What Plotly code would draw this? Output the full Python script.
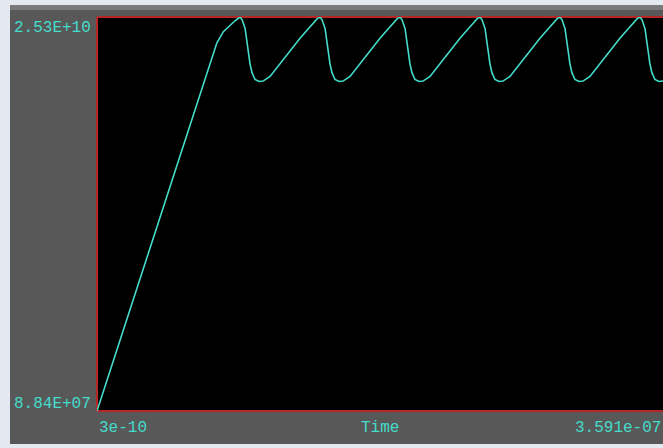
import plotly.graph_objects as go

# Time in ns, values in units of 1e10
time_ns = [
    0.3, 71.9, 76.2, 80.4, 84.6, 87.8,
    91.0, 92.3, 94.2, 96.1, 97.3, 98.6, 100.5, 103.0, 105.6, 110.0, 116.4, 122.7, 129.0, 135.4, 137.9, 139.8,
    141.7, 143.0, 144.9, 146.8, 148.0, 149.3, 151.2, 153.7, 156.3, 160.7, 167.1, 173.4, 179.7, 186.1, 188.6, 190.5,
    192.4, 193.7, 195.6, 197.5, 198.7, 200.0, 201.9, 204.4, 207.0, 211.4, 217.8, 224.1, 230.4, 236.8, 239.3, 241.2,
    243.1, 244.4, 246.3, 248.2, 249.4, 250.7, 252.6, 255.1, 257.7, 262.1, 268.5, 274.8, 281.1, 287.5, 290.0, 291.9,
    293.8, 295.1, 297.0, 298.9, 300.1, 301.4, 303.3, 305.8, 308.4, 312.8, 319.2, 325.5, 331.8, 338.2, 340.7, 342.6,
    344.5, 345.8, 347.7, 349.6, 350.8, 352.1, 354.0, 356.5, 359.1,
]
value_e10 = [
    0.00884, 2.242, 2.362, 2.436, 2.479, 2.506,
    2.530, 2.512, 2.455, 2.310, 2.230, 2.172, 2.130, 2.117, 2.120, 2.150, 2.234, 2.319, 2.394, 2.468, 2.500, 2.518,
    2.530, 2.512, 2.455, 2.310, 2.230, 2.172, 2.130, 2.117, 2.120, 2.150, 2.234, 2.319, 2.394, 2.468, 2.500, 2.518,
    2.530, 2.512, 2.455, 2.310, 2.230, 2.172, 2.130, 2.117, 2.120, 2.150, 2.234, 2.319, 2.394, 2.468, 2.500, 2.518,
    2.530, 2.512, 2.455, 2.310, 2.230, 2.172, 2.130, 2.117, 2.120, 2.150, 2.234, 2.319, 2.394, 2.468, 2.500, 2.518,
    2.530, 2.512, 2.455, 2.310, 2.230, 2.172, 2.130, 2.117, 2.120, 2.150, 2.234, 2.319, 2.394, 2.468, 2.500, 2.518,
    2.530, 2.512, 2.455, 2.310, 2.230, 2.172, 2.130, 2.117, 2.121,
]
values = [v * 1e10 for v in value_e10]

x_range = [0.3, 359.1]
y_range = [8.84e7, 2.53e10]
y_labels = ["8.84E+07", "2.53E+10"]
x_labels = ["3e-10", "Time", "3.591e-07"]

CYAN = "#44dccb"
RED = "#b42828"
GRAY = "#585858"
LIGHT = "#e4e9f1"
FONT = dict(family="Liberation Mono, DejaVu Sans Mono, monospace", size=16, color=CYAN)

W, H = 663, 448
L, R, T, B = 97, 0, 17, 37
pw, ph = W - L - R, H - T - B

def px(x):
    return (x - L) / pw

def py(y):
    return (H - B - y) / ph

fig = go.Figure()
fig.add_trace(go.Scatter(x=time_ns, y=values, mode="lines",
                         line=dict(color=CYAN, width=1.6), hoverinfo="skip",
                         cliponaxis=False))

shapes = [
    dict(type="rect", xref="paper", yref="paper", x0=px(10), x1=1.02, y0=py(444), y1=py(5),
         fillcolor=GRAY, line=dict(width=0), layer="below"),
    dict(type="rect", xref="paper", yref="paper", x0=px(10), x1=1.02, y0=py(10), y1=py(5),
         fillcolor="#7a7a7a", line=dict(width=0), layer="below"),
    dict(type="rect", xref="paper", yref="paper", x0=0, x1=1.02, y0=0, y1=1,
         fillcolor="black", line=dict(width=0), layer="below"),
    dict(type="line", xref="paper", yref="paper", x0=0, x1=1.02, y0=1, y1=1,
         line=dict(color=RED, width=2), layer="below"),
    dict(type="line", xref="paper", yref="paper", x0=0, x1=1.02, y0=0, y1=0,
         line=dict(color=RED, width=2), layer="below"),
    dict(type="line", xref="paper", yref="paper", x0=0, x1=0, y0=0, y1=1,
         line=dict(color=RED, width=2), layer="below"),
]

annotations = [
    dict(text=y_labels[1], xref="paper", yref="paper", x=0, y=1, xanchor="right", yanchor="top",
         xshift=-4, yshift=0, showarrow=False, font=FONT),
    dict(text=y_labels[0], xref="paper", yref="paper", x=0, y=0, xanchor="right", yanchor="bottom",
         xshift=-4, yshift=-4, showarrow=False, font=FONT),
    dict(text=x_labels[0], xref="paper", yref="paper", x=0, y=0, xanchor="left", yanchor="top",
         xshift=0, yshift=-6, showarrow=False, font=FONT),
    dict(text=x_labels[1], xref="paper", yref="paper", x=0.5, y=0, xanchor="center", yanchor="top",
         yshift=-6, showarrow=False, font=FONT),
    dict(text=x_labels[2], xref="paper", yref="paper", x=1, y=0, xanchor="right", yanchor="top",
         yshift=-6, showarrow=False, font=FONT),
]

fig.update_layout(
    width=W, height=H,
    margin=dict(l=L, r=R, t=T, b=B, pad=0),
    paper_bgcolor=LIGHT,
    plot_bgcolor="black",
    showlegend=False,
    shapes=shapes,
    annotations=annotations,
    xaxis=dict(range=x_range, showgrid=False, zeroline=False, showticklabels=False, ticks="",
               showline=False, fixedrange=True),
    yaxis=dict(range=y_range, showgrid=False, zeroline=False, showticklabels=False, ticks="",
               showline=False, fixedrange=True),
)

fig.write_html(
    "out.html",
    config=dict(displayModeBar=False),
    post_script="document.body.style.margin='0';document.body.style.overflow='hidden';"
                "document.body.style.background='" + LIGHT + "';",
)
